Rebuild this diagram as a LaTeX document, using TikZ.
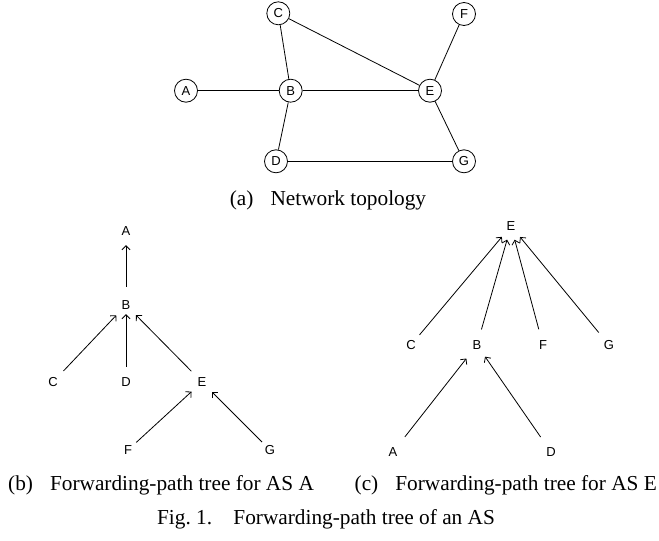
\documentclass[tikz,border=0pt]{standalone}
\usepackage{fontspec}
\setmainfont{Liberation Serif}
\newfontfamily\labfont{Liberation Sans}
\usetikzlibrary{arrows.meta}
\begin{document}
\begin{tikzpicture}[x=1pt,y=-1pt,
  asnode/.style={circle, draw, line width=0.8pt, minimum size=23pt, inner sep=0pt,
    font=\labfont\fontsize{13}{15}\selectfont},
  link/.style={line width=0.8pt},
  treenode/.style={circle, minimum size=16pt, inner sep=0pt,
    font=\labfont\fontsize{13}{15}\selectfont},
  fwd/.style={line width=0.8pt, -{Straight Barb[length=4pt,width=8pt]},
    shorten <=7pt, shorten >=6pt},
  captext/.style={font=\fontsize{21.3}{24}\selectfont, inner sep=0pt}]
\useasboundingbox (0,0) rectangle (659,541);

% (a) network topology
\node[asnode] (tA) at (186,90.7) {A};
\node[asnode] (tB) at (290.7,90.7) {B};
\node[asnode] (tC) at (278.3,13.3) {C};
\node[asnode] (tD) at (276,161.3) {D};
\node[asnode] (tE) at (430,90.7) {E};
\node[asnode] (tF) at (464,14) {F};
\node[asnode] (tG) at (464,161.3) {G};
\draw[link] (tA) -- (tB);
\draw[link] (tB) -- (tC);
\draw[link] (tC) -- (tE);
\draw[link] (tB) -- (tE);
\draw[link] (tE) -- (tF);
\draw[link] (tE) -- (tG);
\draw[link] (tB) -- (tD);
\draw[link] (tD) -- (tG);
\node[captext] (capa) at (328,200) {(a)\hskip0.8em Network topology};

% (b) forwarding-path tree for AS A
\node[treenode] (bA) at (126,231) {A};
\node[treenode] (bB) at (126,305) {B};
\node[treenode] (bC) at (53,382) {C};
\node[treenode] (bD) at (126,382) {D};
\node[treenode] (bE) at (202,382) {E};
\node[treenode] (bF) at (128,450) {F};
\node[treenode] (bG) at (270,450) {G};
\draw[fwd, shorten <=10pt] (bB) -- (bA);
\draw[fwd] (bC) -- (bB);
\draw[fwd, shorten >=1pt] (bD) -- (bB);
\draw[fwd] (bE) -- (bB);
\draw[fwd, shorten <=3pt] (bF) -- (bE);
\draw[fwd, shorten <=3pt] (bG) -- (bE);
\node[captext, anchor=west] (capb) at (8,485) {(b)\hskip0.8em Forwarding-path tree for AS A};

% (c) forwarding-path tree for AS E
\node[treenode] (cE) at (511,226) {E};
\node[treenode] (cC) at (411,345) {C};
\node[treenode] (cB) at (477,345) {B};
\node[treenode] (cF) at (543,345) {F};
\node[treenode] (cG) at (609,345) {G};
\node[treenode] (cA) at (393,452) {A};
\node[treenode] (cD) at (551,452) {D};
\draw[fwd, shorten <=5pt] (cC) -- (cE);
\draw[fwd, shorten <=8pt] (cB) -- (cE);
\draw[fwd, shorten <=8pt] (cF) -- (cE);
\draw[fwd, shorten <=8pt] (cG) -- (cE);
\draw[fwd, shorten <=11pt, shorten >=9pt] (cA) -- (cB);
\draw[fwd, shorten <=10pt] (cD) -- (cB);
\node[captext, anchor=east] (capc) at (657,485) {(c)\hskip0.8em Forwarding-path tree for AS E};

\node[captext] (fig) at (326,519) {Fig.~1.\hskip1.0em Forwarding-path tree of an AS};
\end{tikzpicture}
\end{document}
